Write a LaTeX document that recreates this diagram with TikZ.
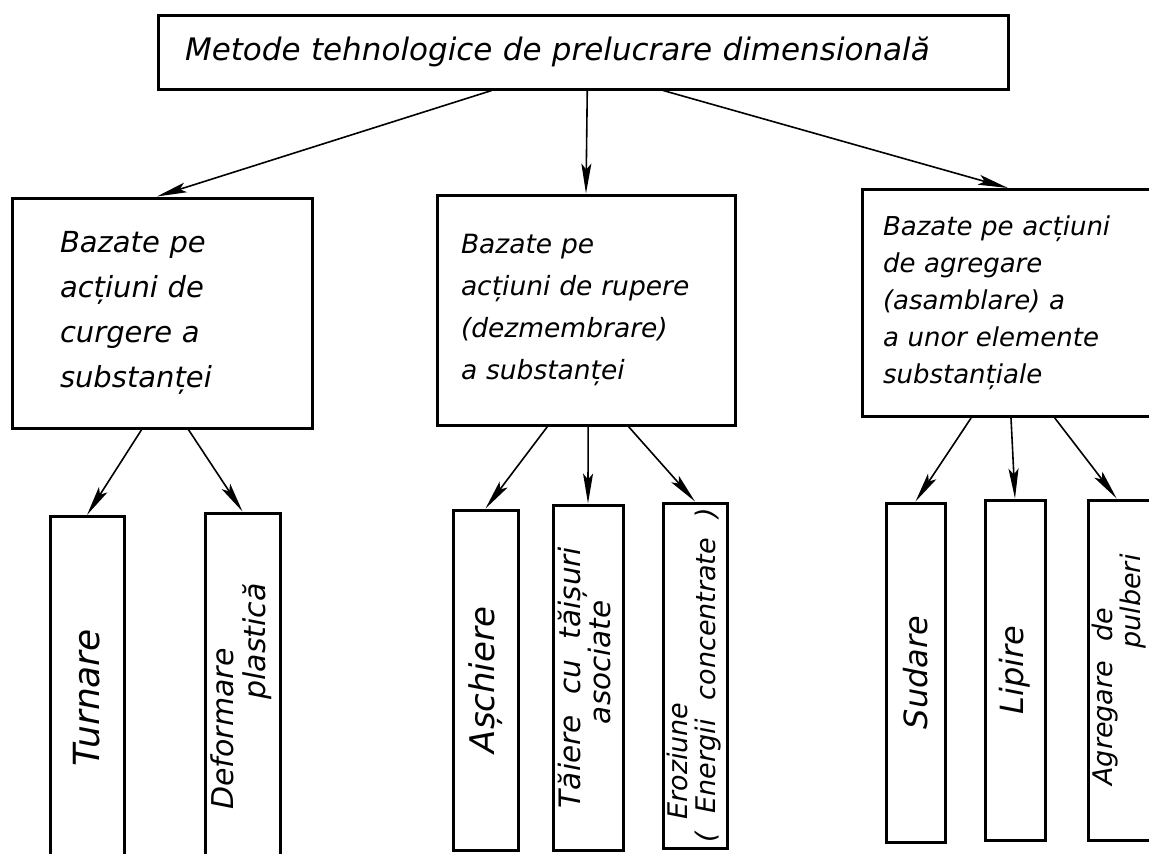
\documentclass[tikz,border=0pt]{standalone}
\usepackage{fontspec}
\setmainfont{DejaVu Sans}[WordSpace=2.2]
\usepackage{tikz}
\usetikzlibrary{arrows.meta,calc}
\newcommand{\hand}[2]{\fontsize{#1}{#2}\selectfont\itshape}
\tikzset{
  titlebox/.style={rectangle, draw, line width=3pt, minimum width=850pt,
                   minimum height=74pt, inner sep=0pt, align=left,
                   text width=796pt, font=\hand{31}{36}},
  grpbox/.style={rectangle, draw, line width=3pt, inner sep=0pt,
                 align=left, minimum height=230pt},
  leafbox/.style={rectangle, draw, line width=3pt, inner sep=0pt},
  flow/.style={-{Stealth[length=30pt,width=10pt,inset=6pt]}, line width=1.6pt},
}

\begin{document}
\begin{tikzpicture}[x=1pt, y=-1pt]
  \path[use as bounding box, fill=white] (0,0) rectangle (1149,854);
  \clip (0,0) rectangle (1149,854);

  \node[titlebox] (meth) at (583,52) {Metode tehnologice de prelucrare dimensională};

  % the three groups
  \node[grpbox, minimum width=300pt, text width=204pt, font=\hand{29}{45}]
       (curg) at (162,313) {Bazate pe\\acțiuni de\\curgere a\\substanței};
  \node[grpbox, minimum width=298pt, text width=250pt, font=\hand{26.5}{42}]
       (rup) at (586,310) {Bazate pe\\acțiuni de rupere\\(dezmembrare)\\a substanței};
  \node[grpbox, minimum width=297pt, minimum height=227pt, text width=256pt,
        font=\hand{26}{37}]
       (agr) at (1011,303) {Bazate pe acțiuni\\de agregare\\(asamblare) a\\a unor elemente\\substanțiale};

  % leaves
  \node[leafbox, minimum width=74pt, minimum height=363pt, font=\hand{36}{40}]
       (turn) at (87,698) {\rotatebox{90}{Turnare}};
  \node[leafbox, minimum width=75pt, minimum height=367pt, font=\hand{30}{29}]
       (deform) at (242.5,696.5)
       {\rotatebox{90}{\begin{tabular}{@{}l@{}}Deformare\\\hspace*{110pt}plastică\end{tabular}}};
  \node[leafbox, minimum width=65pt, minimum height=340pt, font=\hand{34}{40}]
       (asch) at (485.5,680) {\rotatebox{90}{Așchiere}};
  \node[leafbox, minimum width=70pt, minimum height=345pt, font=\hand{29.5}{26}]
       (tai) at (588,677.5)
       {\rotatebox{90}{\begin{tabular}{@{}l@{}}Tăiere cu tăișuri\\\hspace*{84pt}asociate\end{tabular}}};
  \node[leafbox, minimum width=64pt, minimum height=345pt, font=\hand{27}{26}]
       (eroz) at (695,675.5)
       {\rotatebox{90}{\begin{tabular}{@{}l@{}}\hspace*{23pt}Eroziune\\( Energii concentrate )\end{tabular}}};
  \node[leafbox, minimum width=59pt, minimum height=339pt, font=\hand{32}{40}]
       (sud) at (915.5,672.5) {\rotatebox{90}{Sudare}};
  \node[leafbox, minimum width=60pt, minimum height=340pt, font=\hand{32}{40}]
       (lip) at (1015,670) {\rotatebox{90}{Lipire}};
  \node[leafbox, minimum width=64pt, minimum height=340pt, font=\hand{27}{26}]
       (pulb) at (1120,670)
       {\rotatebox{90}{\begin{tabular}{@{}l@{}}Agregare de\\\hspace*{137pt}pulberi\end{tabular}}};

  % arrows from the title
  \draw[flow] ($(meth.south west)!0.393!(meth.south east)$) -- ($(curg.north west)!0.483!(curg.north east)$);
  \draw[flow] ($(meth.south west)!0.505!(meth.south east)$) -- (rup.north);
  \draw[flow] ($(meth.south west)!0.594!(meth.south east)$) -- ($(agr.north west)!0.49!(agr.north east)$);

  % arrows to the leaves
  \draw[flow] ($(curg.south west)!0.433!(curg.south east)$) -- (turn.north);
  \draw[flow] ($(curg.south west)!0.587!(curg.south east)$) -- (deform.north);
  \draw[flow] ($(rup.south west)!0.372!(rup.south east)$) -- (asch.north);
  \draw[flow] ($(rup.south west)!0.507!(rup.south east)$) -- (tai.north);
  \draw[flow] ($(rup.south west)!0.641!(rup.south east)$) -- (eroz.north);
  \draw[flow] ($(agr.south west)!0.367!(agr.south east)$) -- (sud.north);
  \draw[flow] ($(agr.south west)!0.50!(agr.south east)$) -- (lip.north);
  \draw[flow] ($(agr.south west)!0.646!(agr.south east)$) -- ($(pulb.north west)!0.45!(pulb.north east)$);
\end{tikzpicture}
\end{document}
